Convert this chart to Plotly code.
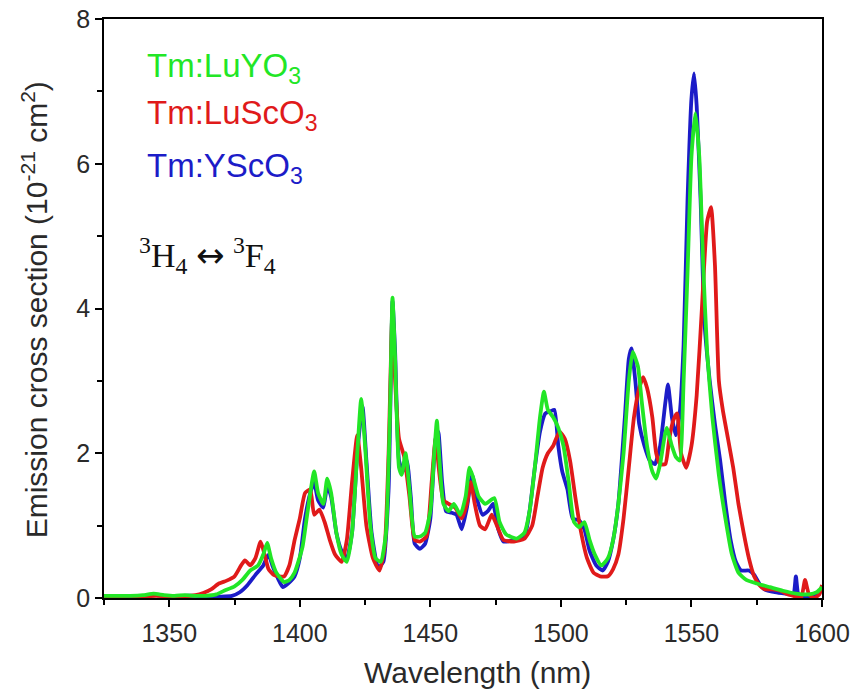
import plotly.graph_objects as go

# ---- data ----
green_x = [1325, 1330, 1335, 1340, 1344, 1348, 1352, 1356, 1360, 1364, 1368, 1371, 1375, 1378, 1381, 1384, 1386,
           1387.5, 1389, 1391, 1394, 1396, 1398, 1401, 1403, 1405.5, 1407, 1409, 1410.5, 1412, 1414, 1416, 1418,
           1420, 1422, 1423.5, 1425, 1427, 1429, 1431, 1433, 1434.5, 1435.5, 1436.5, 1438, 1439, 1440.5, 1442,
           1444, 1446, 1448, 1450, 1451.5, 1452.5, 1453.5, 1455, 1457, 1459, 1461.5, 1463.5, 1465, 1466.5, 1468.5,
           1471, 1474.5, 1476.5, 1479, 1483, 1486, 1488, 1490, 1492, 1493.5, 1495, 1497, 1499, 1501, 1503, 1505,
           1507, 1509, 1511, 1513, 1515.5, 1518, 1520, 1522, 1524, 1526, 1527.5, 1529.5, 1531, 1533, 1535, 1536.5,
           1538, 1540.5, 1542.5, 1544, 1545.5, 1547, 1548.5, 1550, 1551.5, 1553, 1554.5, 1556, 1558, 1560.5, 1563,
           1565.5, 1568, 1571, 1575, 1580, 1585, 1590, 1595, 1598, 1600]
green_y = [0.03, 0.03, 0.03, 0.04, 0.06, 0.04, 0.03, 0.04, 0.03, 0.03, 0.05, 0.10, 0.16, 0.25, 0.38, 0.45, 0.60,
           0.76, 0.55, 0.35, 0.22, 0.25, 0.35, 0.70, 1.20, 1.75, 1.45, 1.30, 1.65, 1.45, 0.90, 0.60, 0.50,
           0.90, 2.00, 2.75, 2.10, 1.00, 0.55, 0.50, 0.90, 2.50, 4.15, 3.30, 1.80, 1.70, 2.00, 1.50,
           0.85, 0.85, 0.90, 1.20, 2.00, 2.45, 1.90, 1.30, 1.20, 1.30, 1.15, 1.40, 1.80, 1.65, 1.40,
           1.30, 1.38, 1.05, 0.88, 0.82, 0.90, 1.20, 1.80, 2.50, 2.85, 2.60, 2.50, 2.35, 2.10, 1.60, 1.05,
           0.98, 1.05, 0.80, 0.60, 0.45, 0.55, 0.80, 1.30, 2.00, 3.00, 3.40, 3.20, 2.70, 2.10, 1.75, 1.65,
           1.85, 2.35, 2.10, 1.95, 1.90, 3.00, 4.50, 6.10, 6.70, 6.10, 4.60, 3.40, 2.50, 1.70, 1.10,
           0.60, 0.35, 0.25, 0.20, 0.15, 0.10, 0.06, 0.05, 0.08, 0.15]

red_x = [1325, 1330, 1335, 1340, 1345, 1350, 1355, 1360, 1363, 1366, 1369, 1372, 1375, 1377.5, 1379, 1381, 1383,
         1385, 1386.5, 1388, 1390, 1392, 1394, 1396, 1398, 1400, 1402, 1404, 1405.5, 1407.5, 1409.5, 1411.5,
         1413.5, 1416, 1418, 1420, 1422, 1423.5, 1425.5, 1428, 1430.5, 1432.5, 1434, 1435.5, 1436.5, 1438, 1440,
         1442, 1444, 1446, 1448.5, 1450.5, 1452, 1453.5, 1455, 1457, 1459.5, 1462, 1464, 1465.5, 1467, 1469,
         1471, 1473.5, 1475.5, 1478, 1482, 1486, 1489, 1491, 1493, 1495, 1497, 1499.5, 1501.5, 1503.5, 1505.5,
         1507.5, 1510, 1512.5, 1515, 1518, 1520, 1522, 1524, 1526, 1528, 1530, 1531.5, 1533, 1535, 1536.5, 1538,
         1540, 1541.5, 1543, 1544.5, 1546, 1548, 1550, 1552, 1554, 1556, 1557.5, 1559, 1560.5, 1562, 1564, 1566,
         1568, 1570, 1572, 1574, 1576, 1578, 1581, 1584, 1587, 1590, 1592, 1593.5, 1595, 1597, 1599, 1600]
red_y = [0.02, 0.02, 0.03, 0.02, 0.03, 0.02, 0.02, 0.04, 0.07, 0.12, 0.20, 0.24, 0.30, 0.45, 0.52, 0.45, 0.55,
         0.78, 0.60, 0.40, 0.32, 0.30, 0.30, 0.45, 0.80, 1.10, 1.45, 1.50, 1.15, 1.22, 1.05, 0.80,
         0.60, 0.50, 0.80, 1.60, 2.25, 1.80, 1.00, 0.55, 0.38, 0.70, 2.00, 4.00, 3.00, 2.20, 1.95,
         1.40, 0.80, 0.78, 0.85, 1.60, 2.20, 1.70, 1.35, 1.30, 1.25, 1.10, 1.30, 1.60, 1.30, 1.00,
         0.95, 1.15, 1.00, 0.80, 0.78, 0.82, 1.00, 1.40, 1.80, 2.00, 2.10, 2.30, 2.20, 1.90, 1.40,
         0.95, 0.55, 0.35, 0.30, 0.30, 0.40, 0.60, 1.10, 1.80, 2.50, 2.90, 3.05, 2.90, 2.50, 2.00, 1.85,
         1.85, 2.20, 2.45, 2.55, 2.00, 1.80, 2.10, 2.80, 4.00, 5.20, 5.40, 4.60, 3.00, 2.60, 2.20, 1.80,
         1.30, 0.90, 0.55, 0.30, 0.18, 0.12, 0.12, 0.10, 0.05, 0.02, 0.00, 0.25, 0.05, 0.00, 0.05, 0.18]

blue_x = [1325, 1330, 1335, 1340, 1345, 1350, 1355, 1360, 1365, 1370, 1374, 1377, 1380, 1383, 1386, 1388, 1389.5,
          1391.5, 1393.5, 1395.5, 1398, 1400, 1402, 1404, 1405.5, 1407, 1409, 1410.5, 1412, 1414, 1416, 1418,
          1420, 1422, 1424, 1425.5, 1427.5, 1430, 1432, 1434, 1435.5, 1436.5, 1438, 1439.5, 1441, 1442.5, 1444,
          1446, 1448, 1450, 1452, 1453, 1454.5, 1456, 1458, 1460, 1462, 1464, 1466, 1468, 1470, 1472, 1474, 1476,
          1478, 1482, 1486, 1488, 1490, 1492, 1494, 1496, 1497.5, 1499, 1500.5, 1502.5, 1504.5, 1507, 1509, 1511,
          1513.5, 1516, 1518, 1520, 1522, 1524.5, 1526, 1527, 1528.5, 1530, 1532, 1534, 1536, 1538, 1540, 1541,
          1542.5, 1544, 1545.5, 1547, 1548.5, 1550, 1551, 1552, 1553.5, 1555, 1557, 1559, 1561, 1563, 1565, 1567,
          1569, 1572, 1574, 1576, 1578, 1582, 1586, 1589, 1590, 1591, 1594, 1597, 1600]
blue_y = [0.03, 0.03, 0.02, 0.03, 0.04, 0.02, 0.03, 0.03, 0.02, 0.02, 0.03, 0.08, 0.18, 0.32, 0.45, 0.60, 0.45,
          0.28, 0.15, 0.20, 0.30, 0.55, 1.10, 1.45, 1.60, 1.35, 1.25, 1.55, 1.40, 0.90, 0.65, 0.55,
          0.90, 2.00, 2.65, 1.90, 0.90, 0.42, 0.50, 1.50, 4.10, 3.40, 1.90, 1.75, 1.90, 1.40, 0.75,
          0.68, 0.75, 1.10, 2.20, 2.30, 1.60, 1.20, 1.18, 1.15, 0.95, 1.25, 1.70, 1.35, 1.15, 1.20, 1.30, 0.95,
          0.78, 0.80, 0.85, 1.20, 1.80, 2.30, 2.55, 2.58, 2.60, 2.10, 1.75, 1.50, 1.10, 1.07, 0.95, 0.65,
          0.45, 0.38, 0.50, 0.80, 1.30, 2.50, 3.30, 3.45, 3.00, 2.40, 2.10, 1.90, 1.85, 2.10, 2.70, 2.95,
          2.50, 2.25, 2.55, 3.50, 5.50, 6.90, 7.25, 6.80, 5.50, 3.80, 3.00, 2.40, 1.90, 1.30, 0.80, 0.50,
          0.38, 0.38, 0.32, 0.20, 0.12, 0.08, 0.06, 0.05, 0.30, 0.05, 0.02, 0.03, 0.10]

x_ticks = [1350, 1400, 1450, 1500, 1550, 1600]
y_ticks = [0, 2, 4, 6, 8]
x_title = "Wavelength (nm)"
y_title = "Emission cross section (10<sup>-21</sup> cm<sup>2</sup>)"

GREEN = "#22e626"
RED = "#e01a1a"
BLUE = "#1c1cc8"
TXT = "#2a2a2a"

fig = go.Figure()
for name, xs, ys, col in [("Tm:YScO3", blue_x, blue_y, BLUE),
                          ("Tm:LuScO3", red_x, red_y, RED),
                          ("Tm:LuYO3", green_x, green_y, GREEN)]:
    fig.add_trace(go.Scatter(x=xs, y=ys, mode="lines", name=name,
                             line=dict(color=col, width=3.8, shape="spline", smoothing=0.5)))

LEG_FONT = "Liberation Sans, Arial"
fig.add_annotation(x=0.057, y=0.915, xref="paper", yref="paper", xanchor="left", yanchor="middle",
                   text="Tm:LuYO<sub>3</sub>", showarrow=False,
                   font=dict(family=LEG_FONT, size=33, color=GREEN))
fig.add_annotation(x=0.057, y=0.834, xref="paper", yref="paper", xanchor="left", yanchor="middle",
                   text="Tm:LuScO<sub>3</sub>", showarrow=False,
                   font=dict(family=LEG_FONT, size=33, color=RED))
fig.add_annotation(x=0.057, y=0.742, xref="paper", yref="paper", xanchor="left", yanchor="middle",
                   text="Tm:YScO<sub>3</sub>", showarrow=False,
                   font=dict(family=LEG_FONT, size=33, color=BLUE))
fig.add_annotation(x=0.046, y=0.592, xref="paper", yref="paper", xanchor="left", yanchor="middle",
                   text="<sup>3</sup>H<sub>4</sub> <span style=\"font-family:'DejaVu Sans'\">\u2194</span> <sup>3</sup>F<sub>4</sub>",
                   showarrow=False,
                   font=dict(family="Liberation Serif, Times New Roman", size=34, color="#111111"))

# axis titles placed as annotations so the plot area keeps the reference geometry
fig.add_annotation(x=0.52, y=-0.128, xref="paper", yref="paper", xanchor="center", yanchor="middle",
                   text=x_title, showarrow=False,
                   font=dict(family="Liberation Sans, Arial", size=30, color=TXT))
fig.add_annotation(x=-0.096, y=0.497, xref="paper", yref="paper", xanchor="center", yanchor="middle",
                   text=y_title, showarrow=False, textangle=-90,
                   font=dict(family="Liberation Sans, Arial", size=30, color=TXT))

axis_common = dict(showline=True, linecolor="black", linewidth=1.5, mirror=True,
                   ticks="outside", ticklen=7, tickwidth=1.5, tickcolor="black",
                   showgrid=False, zeroline=False, automargin=False,
                   tickfont=dict(family="Liberation Sans, Arial", size=25, color=TXT))

fig.update_xaxes(range=[1325, 1600], tickvals=x_ticks, ticklabelstandoff=5,
                 minor=dict(dtick=25, tick0=1325, ticks="outside", ticklen=5, tickcolor="black", tickwidth=1.5),
                 **axis_common)
fig.update_yaxes(range=[0, 8], tickvals=y_ticks,
                 minor=dict(dtick=1, ticks="outside", ticklen=5, tickcolor="black", tickwidth=1.5),
                 **axis_common)

fig.update_layout(width=856, height=694, autosize=False,
                  margin=dict(l=104, r=34, t=19, b=96),
                  paper_bgcolor="white", plot_bgcolor="white",
                  showlegend=False)

fig.write_html("out.html")
